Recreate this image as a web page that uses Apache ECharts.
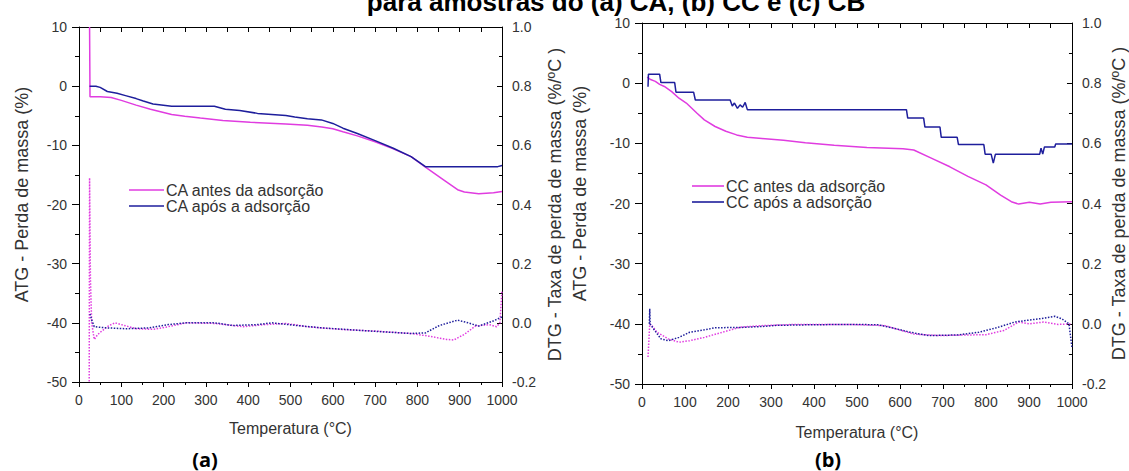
<!DOCTYPE html>
<html>
<head>
<meta charset="utf-8">
<script src="https://cdn.jsdelivr.net/npm/echarts@6/dist/echarts.min.js"></script>
<style>
html,body{margin:0;padding:0;background:#fff;}
#chart{width:1129px;height:471px;}
</style>
</head>
<body>
<div id="chart"></div>
<script>
// ---------- DATA (temperature °C, value) ----------
const titleText = 'para amostras do (a) CA, (b) CC e (c) CB';
const panelLabels = ['(a)', '(b)'];
const xAxisName = 'Temperatura (°C)';
const yLeftName = 'ATG - Perda de massa (%)';
const yRightName = 'DTG - Taxa de perda de massa (%/ºC )';
const legendA = ['CA antes da adsorção', 'CA após a adsorção'];
const legendB = ['CC antes da adsorção', 'CC após a adsorção'];

// (a) CA - ATG (%)
const caAntesATG = [[25,10],[26,-1.8],[50,-1.8],[76,-1.9],[100,-2.4],[135,-3.2],[169,-3.9],[219,-4.8],[250,-5.1],[287,-5.4],[340,-5.8],[405,-6.1],[489,-6.4],[540,-6.6],[574,-6.9],[600,-7.2],[624,-7.7],[658,-8.4],[700,-9.4],[743,-10.6],[785,-11.9],[819,-13.7],[861,-15.8],[895,-17.5],[911,-17.9],[945,-18.2],[980,-18.0],[1000,-17.8]];
const caAposATG = [[25,0],[40,0],[50,-0.2],[67,-0.9],[90,-1.2],[110,-1.6],[135,-2.1],[152,-2.5],[175,-3.0],[219,-3.4],[320,-3.4],[346,-3.9],[380,-4.1],[422,-4.6],[489,-4.95],[510,-5.2],[540,-5.5],[573,-5.7],[600,-6.3],[624,-7.1],[658,-8.0],[700,-9.2],[743,-10.5],[785,-11.9],[819,-13.6],[990,-13.6],[1000,-13.4]];
// (a) CA - DTG (%/ºC)
const caAntesDTG = [[24,-0.3],[25,0.49],[27,0.15],[30,0.0],[36,-0.056],[44,-0.04],[52,-0.03],[70,-0.01],[85,0.0],[100,-0.006],[135,-0.02],[175,-0.022],[211,-0.013],[253,0],[321,-0.002],[388,-0.013],[439,-0.006],[489,-0.002],[540,-0.013],[616,-0.022],[700,-0.028],[785,-0.036],[827,-0.045],[869,-0.056],[886,-0.058],[911,-0.039],[937,-0.011],[970,-0.006],[987,-0.013],[995,0.0],[1000,0.11]];
const caAposDTG = [[26,0.03],[30,0.01],[36,-0.013],[50,-0.015],[66,-0.017],[110,-0.02],[167,-0.017],[211,-0.006],[253,0],[321,0],[363,-0.009],[422,-0.006],[456,0],[515,-0.009],[574,-0.017],[658,-0.025],[726,-0.031],[785,-0.036],[819,-0.034],[852,-0.009],[895,0.009],[920,0],[945,-0.011],[979,0.006],[996,0.017],[1000,0.02]];

// (b) CC - ATG (%)
const ccAntesATG = [[12,1.0],[20,0.6],[31,0.3],[41,-0.2],[52,-0.55],[69,-1.4],[86,-2.5],[103,-3.3],[128,-5.0],[145,-6.1],[170,-7.2],[195,-8.0],[220,-8.6],[245,-9.0],[279,-9.2],[329,-9.5],[380,-9.9],[447,-10.3],[523,-10.7],[607,-10.9],[632,-11.1],[674,-12.5],[716,-13.9],[758,-15.5],[800,-16.9],[834,-18.6],[859,-19.7],[876,-20.1],[901,-19.8],[926,-20.1],[951,-19.8],[1000,-19.7]];
const ccAposATG = [[14,-0.6],[15,1.5],[41,1.5],[44,0.1],[76,0.1],[79,-1.5],[120,-1.5],[124,-2.8],[205,-2.8],[210,-3.8],[215,-3.3],[222,-4.2],[228,-3.6],[234,-4.0],[240,-3.2],[245,-4.4],[615,-4.4],[618,-5.8],[655,-5.8],[658,-7.3],[693,-7.3],[696,-9.0],[733,-9.0],[736,-10.2],[795,-10.2],[798,-11.8],[812,-11.8],[817,-13.3],[822,-11.8],[925,-11.8],[928,-10.8],[932,-11.8],[936,-10.6],[960,-10.6],[962,-10.1],[1000,-10.1]];
// (b) CC - DTG (%/ºC)
const ccAntesDTG = [[14,-0.11],[18,0.0],[23,-0.006],[35,-0.028],[61,-0.05],[86,-0.061],[111,-0.056],[145,-0.045],[187,-0.028],[229,-0.011],[279,-0.006],[355,-0.002],[481,-0.002],[565,-0.006],[632,-0.034],[691,-0.039],[758,-0.037],[800,-0.036],[842,-0.022],[876,0.006],[901,0.0],[934,0.006],[968,-0.002],[1000,0.0]];
const ccAposDTG = [[17,0.0],[18,0.05],[19,0.0],[27,-0.017],[44,-0.05],[61,-0.056],[86,-0.045],[111,-0.028],[145,-0.02],[170,-0.013],[229,-0.012],[279,-0.009],[313,-0.005],[397,-0.003],[481,-0.002],[548,-0.003],[581,-0.013],[624,-0.028],[666,-0.039],[733,-0.037],[783,-0.028],[825,-0.013],[867,0.006],[892,0.011],[926,0.017],[960,0.025],[976,0.017],[993,0],[1000,-0.08]];

// ---------- STYLE ----------
const MAG = '#e03ce0';
const NAVY = '#1e1e9c';
const FONT = 'Liberation Sans, Arial, sans-serif';
const TXT = '#333';

function xBottom(g, gap) {
  return {
    gridIndex: g, type: 'value', min: 0, max: 1000, interval: 100, position: 'bottom',
    axisLine: { onZero: false, lineStyle: { color: '#000', width: 1 } },
    axisTick: { inside: false, length: 5, lineStyle: { color: '#000' } },
    minorTick: { show: true, splitNumber: 2, length: 3, lineStyle: { color: '#000' } },
    axisLabel: { margin: 11, fontSize: 14, color: TXT, fontFamily: FONT, formatter: v => String(v) },
    splitLine: { show: false },
    name: xAxisName, nameLocation: 'middle', nameGap: gap,
    nameTextStyle: { fontSize: 16, color: TXT, fontFamily: FONT }
  };
}
function xTop(g) {
  return {
    gridIndex: g, type: 'value', min: 0, max: 1000, interval: 50, position: 'top',
    axisLine: { onZero: false, lineStyle: { color: '#000', width: 1 } },
    axisTick: { inside: true, length: 5, lineStyle: { color: '#000' } },
    axisLabel: { show: false }, splitLine: { show: false }
  };
}
function yLeft(g, gap) {
  return {
    gridIndex: g, type: 'value', min: -50, max: 10, interval: 10, position: 'left',
    axisLine: { show: true, onZero: false, lineStyle: { color: '#000', width: 1 } },
    axisTick: { show: true, inside: false, length: 7, lineStyle: { color: '#000' } },
    minorTick: { show: true, splitNumber: 2, length: 4, lineStyle: { color: '#000' } },
    axisLabel: { margin: 12, fontSize: 14, color: TXT, fontFamily: FONT, formatter: v => String(v) },
    splitLine: { show: false },
    name: yLeftName, nameLocation: 'middle', nameGap: gap,
    nameTextStyle: { fontSize: 18, color: TXT, fontFamily: FONT, padding: [0, 0, 0, 20] }
  };
}
function yRight(g, gap) {
  return {
    gridIndex: g, type: 'value', min: -0.2, max: 1.0, interval: 0.2, position: 'right',
    axisLine: { show: true, onZero: false, lineStyle: { color: '#000', width: 1 } },
    axisTick: { show: true, inside: true, length: 5, lineStyle: { color: '#000' } },
    minorTick: { show: true, splitNumber: 2, length: 3, lineStyle: { color: '#000' } },
    axisLabel: { margin: 10, fontSize: 14, color: TXT, fontFamily: FONT, formatter: v => v.toFixed(1) },
    splitLine: { show: false },
    name: yRightName, nameLocation: 'middle', nameGap: gap,
    nameTextStyle: { fontSize: 18, color: TXT, fontFamily: FONT }
  };
}
function solid(name, data, color, xi, yi) {
  return { name, type: 'line', data, xAxisIndex: xi, yAxisIndex: yi, symbol: 'none',
    lineStyle: { color, width: 1.5 }, itemStyle: { color }, z: 3, animation: false };
}
function dotted(name, data, color, xi, yi) {
  return { name, type: 'line', data, xAxisIndex: xi, yAxisIndex: yi, symbol: 'none',
    lineStyle: { color, width: 1.5, type: 'dotted' }, itemStyle: { color }, z: 2, animation: false };
}
function legend(names, left, top, gap, w) {
  return { data: names, orient: 'vertical', left, top, padding: 0, itemGap: gap,
    icon: 'rect', itemWidth: w, itemHeight: 1.6,
    textStyle: { fontSize: 16, color: TXT, fontFamily: FONT, padding: [0, 0, 0, -3] } };
}

const chart = echarts.init(document.getElementById('chart'), null, { renderer: 'svg' });
chart.setOption({
  animation: false,
  backgroundColor: '#fff',
  grid: [
    { left: 79, top: 27, width: 423, height: 355 },
    { left: 642, top: 23, width: 434, height: 361 }
  ],
  xAxis: [xBottom(0, 38), xTop(0), xBottom(1, 40), xTop(1)],
  yAxis: [yLeft(0, 48), yRight(0, 44), yLeft(1, 53), yRight(1, 33)],
  legend: [legend(legendA, 129, 182, 0, 35), legend(legendB, 692, 178, 0, 32)],
  series: [
    dotted('CA antes DTG', caAntesDTG, MAG, 0, 1),
    dotted('CA após DTG', caAposDTG, NAVY, 0, 1),
    solid(legendA[0], caAntesATG, MAG, 0, 0),
    solid(legendA[1], caAposATG, NAVY, 0, 0),
    dotted('CC antes DTG', ccAntesDTG, MAG, 2, 3),
    dotted('CC após DTG', ccAposDTG, NAVY, 2, 3),
    solid(legendB[0], ccAntesATG, MAG, 2, 2),
    solid(legendB[1], ccAposATG, NAVY, 2, 2)
  ],
  graphic: [
    { type: 'text', x: 616, y: 1.5, style: { text: titleText, fill: '#000',
      font: 'bold 26px ' + FONT, textAlign: 'center', textVerticalAlign: 'middle' } },
    { type: 'text', x: 205, y: 459, style: { text: panelLabels[0], fill: '#000',
      font: 'bold 20px "Open Sans", sans-serif', textAlign: 'center', textVerticalAlign: 'middle' } },
    { type: 'text', x: 828, y: 459, style: { text: panelLabels[1], fill: '#000',
      font: 'bold 20px "Open Sans", sans-serif', textAlign: 'center', textVerticalAlign: 'middle' } }
  ]
});
</script>
</body>
</html>
